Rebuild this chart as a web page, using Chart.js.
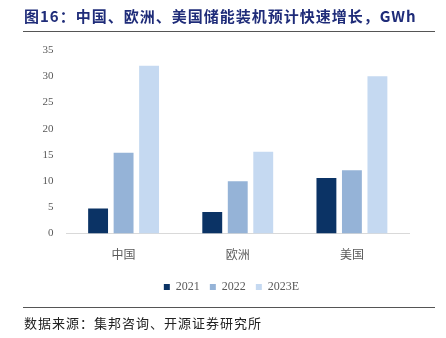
<!DOCTYPE html>
<html>
<head>
<meta charset="utf-8">
<script src="https://cdn.jsdelivr.net/npm/chart.js@4.4.0/dist/chart.umd.min.js"></script>
<style>
    html, body { margin: 0; padding: 0; background: #fff; }
    body { width: 446px; height: 338px; position: relative; overflow: hidden; }
    #title {
        position: absolute; left: 24px; top: 6px; white-space: nowrap;
        font-family: "Noto Sans CJK SC", sans-serif; font-weight: bold;
        font-size: 15px; letter-spacing: 1px; color: #1F2C79; line-height: 20px;
    }
    .rule { position: absolute; left: 23px; width: 412px; height: 1px; background: #555; }
    #source {
        position: absolute; left: 24px; top: 314px; white-space: nowrap;
        font-family: "Noto Sans CJK SC", sans-serif; font-size: 13px;
        letter-spacing: 1px; color: #222; line-height: 18px;
    }
    #wrap { position: absolute; left: 0; top: 0; width: 446px; height: 338px; }
</style>
</head>
<body>
<div id="wrap"><canvas id="chart"></canvas></div>
<div id="title">图16：中国、欧洲、美国储能装机预计快速增长，GWh</div>
<div class="rule" style="top:31px"></div>
<div class="rule" style="top:307px"></div>
<div id="source">数据来源：集邦咨询、开源证券研究所</div>
<script>
// 数据
const categories = ['中国', '欧洲', '美国'];
const seriesNames = ['2021', '2022', '2023E'];
const values2021 = [4.8, 4.1, 10.6];
const values2022 = [15.4, 10.0, 12.1];
const values2023E = [32.0, 15.6, 30.0];
const yTicks = [0, 5, 10, 15, 20, 25, 30, 35];

const colors = ['#0B3365', '#95B3D7', '#C5D9F1'];

// Desloca a legenda para ficar na posição do original
const legendShift = {
    id: 'legendShift',
    afterLayout(chart) {
        chart.legend.left += 27;
        chart.legend.right += 27;
        chart.legend.top -= 5;
        chart.legend.bottom -= 5;
    }
};

document.addEventListener('DOMContentLoaded', function() {
    const ctx = document.getElementById('chart').getContext('2d');
    const allValues = [values2021, values2022, values2023E];
    new Chart(ctx, {
        type: 'bar',
        data: {
            labels: categories,
            datasets: seriesNames.map((name, i) => ({
                label: name,
                data: allValues[i],
                backgroundColor: colors[i],
                borderWidth: 0,
                barPercentage: 0.78,
                categoryPercentage: 0.67
            }))
        },
        plugins: [legendShift],
        options: {
            responsive: true,
            maintainAspectRatio: false,
            animation: false,
            layout: {
                padding: { left: 0, right: 37, top: 50, bottom: 30 }
            },
            plugins: {
                legend: {
                    position: 'bottom',
                    labels: {
                        boxWidth: 6,
                        boxHeight: 6,
                        padding: 10,
                        color: '#595959',
                        font: { family: '"Liberation Serif", serif', size: 12 }
                    }
                },
                tooltip: { enabled: false }
            },
            scales: {
                x: {
                    grid: { display: false, drawTicks: false },
                    border: { display: true, color: '#D9D9D9', width: 1 },
                    ticks: {
                        padding: 14,
                        color: '#595959',
                        font: { family: '"Noto Sans CJK SC", sans-serif', size: 12 }
                    }
                },
                y: {
                    min: 0,
                    max: 35,
                    afterFit: function(scale) { scale.width = 66.5; },
                    afterBuildTicks: function(scale) {
                        scale.ticks = yTicks.map(v => ({ value: v }));
                    },
                    grid: { display: false, drawTicks: false },
                    border: { display: false },
                    ticks: {
                        padding: 13,
                        color: '#595959',
                        font: { family: '"Liberation Serif", serif', size: 11 }
                    }
                }
            }
        }
    });
});
</script>
</body>
</html>
